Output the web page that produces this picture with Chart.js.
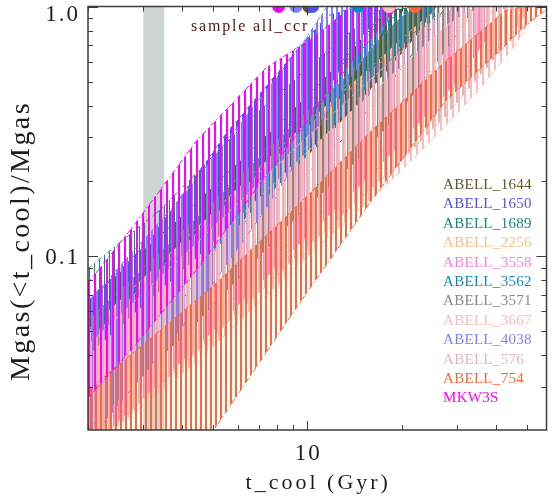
<!DOCTYPE html>
<html>
<head>
<meta charset="utf-8">
<script src="https://cdn.jsdelivr.net/npm/chart.js@4.4.1/dist/chart.umd.min.js"></script>
<style>
  html, body { margin: 0; padding: 0; background: #fff; }
</style>
</head>
<body>
<canvas id="chart" width="553" height="497"></canvas>
<script>
// -------------------------------
// data
// -------------------------------
const clusters = ['ABELL_1644', 'ABELL_1650', 'ABELL_1689', 'ABELL_2256', 'ABELL_3558', 'ABELL_3562',
                  'ABELL_3571', 'ABELL_3667', 'ABELL_4038', 'ABELL_576', 'ABELL_754', 'MKW3S'];
const colors = ['#5a5a2a', '#5050ff', '#118a80', '#ffbf80', '#ff80dd', '#1188cc',
                '#888888', '#ffbbbb', '#7f7fff', '#e3b5b8', '#ff6633', '#ff00ff'];

// t_cool (Gyr), lower and upper envelope of Mgas(<t_cool)/Mgas
const t1644  = [2.0, 4.51, 9.3, 13.37, 17.86, 22.2, 25.7];
const lo1644 = [0.038, 0.096, 0.230, 0.365, 0.552, 0.762, 1.0];
const hi1644 = [0.066, 0.167, 0.400, 0.634, 0.959, 1.0, 1.0];

const t1650  = [2.0, 3.13, 5.6, 8.65, 11.56, 14.37, 18.52];
const lo1650 = [0.022, 0.042, 0.126, 0.264, 0.459, 0.728, 1.0];
const hi1650 = [0.066, 0.115, 0.318, 0.605, 0.916, 1.0, 1.0];

const t1689  = [2.0, 3.37, 6.47, 11.56, 16.61, 23.9, 27.6];
const lo1689 = [0.042, 0.073, 0.140, 0.250, 0.420, 0.760, 1.0];
const hi1689 = [0.089, 0.152, 0.348, 0.664, 0.959, 1.0, 1.0];

const t2256  = [2.0, 4.51, 9.3, 15.45, 22.2, 26.6, 36.9, 39.6];
const lo2256 = [0.0183, 0.0504, 0.120, 0.225, 0.372, 0.490, 0.875, 1.0];
const hi2256 = [0.0504, 0.132, 0.318, 0.552, 0.836, 1.0, 1.0, 1.0];

const t3558  = [2.0, 4.51, 9.3, 16.61, 23.9, 29.7, 36.9, 42.6];
const lo3558 = [0.0167, 0.044, 0.110, 0.222, 0.368, 0.495, 0.728, 1.0];
const hi3558 = [0.046, 0.126, 0.303, 0.578, 0.836, 1.0, 1.0, 1.0];

const t3562  = [2.0, 4.51, 9.3, 13.37, 16.61, 22.2, 25.7];
const lo3562 = [0.032, 0.092, 0.230, 0.382, 0.527, 0.798, 1.0];
const hi3562 = [0.050, 0.145, 0.365, 0.605, 0.836, 1.0, 1.0];

const t3571  = [2.0, 4.51, 9.3, 13.37, 15.45, 19.21, 22.2, 29.7, 34.3];
const lo3571 = [0.0201, 0.0553, 0.145, 0.222, 0.264, 0.368, 0.459, 0.762, 1.0];
const hi3571 = [0.0553, 0.145, 0.348, 0.527, 0.645, 0.875, 1.0, 1.0, 1.0];

const t3667  = [2.0, 4.51, 9.3, 19.21, 27.6, 34.3, 45.8, 55.0];
const lo3667 = [0.0167, 0.0383, 0.0917, 0.210, 0.333, 0.447, 0.695, 1.0];
const hi3667 = [0.040, 0.100, 0.241, 0.552, 0.836, 1.0, 1.0, 1.0];

const t4038  = [2.0, 3.9, 6.96, 9.3, 11.56, 16.61, 19.21];
const lo4038 = [0.018, 0.050, 0.139, 0.241, 0.382, 0.728, 1.0];
const hi4038 = [0.066, 0.167, 0.419, 0.664, 1.0, 1.0, 1.0];

const t576  = [2.0, 4.51, 9.3, 19.21, 25.7, 27.6, 42.6, 51.1];
const lo576 = [0.0167, 0.0420, 0.100, 0.230, 0.333, 0.365, 0.695, 1.0];
const hi576 = [0.044, 0.115, 0.277, 0.634, 0.916, 1.0, 1.0, 1.0];

const t754  = [2.0, 5.02, 9.3, 16.02, 27.6, 42.6, 49.3, 57.0];
const lo754 = [0.0087, 0.020, 0.063, 0.167, 0.419, 0.695, 0.836, 0.959];
const hi754 = [0.029, 0.076, 0.159, 0.318, 0.605, 0.959, 1.0, 1.0];

const tMKW  = [2.0, 2.83, 4.44, 7.38, 10.6, 13.86, 17.86, 19.21];
const loMKW = [0.027, 0.044, 0.088, 0.210, 0.382, 0.605, 0.875, 1.0];
const hiMKW = [0.078, 0.135, 0.290, 0.567, 0.762, 1.0, 1.0, 1.0];

const tcool = [t1644, t1650, t1689, t2256, t3558, t3562, t3571, t3667, t4038, t576, t754, tMKW];
const lows  = [lo1644, lo1650, lo1689, lo2256, lo3558, lo3562, lo3571, lo3667, lo4038, lo576, lo754, loMKW];
const highs = [hi1644, hi1650, hi1689, hi2256, hi3558, hi3562, hi3571, hi3667, hi4038, hi576, hi754, hiMKW];

// markers on the top axis
const markNames = ['MKW3S', 'ABELL_4038', 'ABELL_1644', 'ABELL_1650', 'ABELL_3562', 'ABELL_3667', 'ABELL_754'];
const markT     = [8.1, 9.2, 10.1, 10.4, 14.5, 18.2, 22.0];
const markY     = [1.0, 1.0, 1.0, 1.0, 1.0, 1.0, 1.0];

// shaded t_cool interval
const coolBand = [3.0, 3.5];

// axes
const xRange = [2.0, 57.8];
const yRange = [0.0201, 1.0];
const xMajor = [10];
const xMinor = [2, 3, 4, 5, 6, 7, 8, 9, 20, 30, 40, 50];
const yMajor = [0.1, 1.0];
const yMinor = [0.03, 0.04, 0.05, 0.06, 0.07, 0.08, 0.09, 0.2, 0.3, 0.4, 0.5, 0.6, 0.7, 0.8, 0.9];
const xTickLabels = ['10'];
const yTickLabels = ['0.1', '1.0'];
const xTitle = 't_cool (Gyr)';
const yTitle = 'Mgas(<t_cool)/Mgas';
const sampleLabel = 'sample all_ccr';

// -------------------------------
// hatch patterns (vertical lines)
// -------------------------------
const canvas = document.getElementById('chart');
const ctx = canvas.getContext('2d');

function hatch(color, period, offset) {
    const c = document.createElement('canvas');
    c.width = period;
    c.height = 8;
    const g = c.getContext('2d');
    g.fillStyle = color;
    g.fillRect(offset, 0, 2, 8);
    return ctx.createPattern(c, 'repeat');
}

// later clusters are drawn on top (plot order = legend order)
const datasets = [];
clusters.forEach((name, i) => {
    const pts = ys => tcool[i].map((t, k) => ({ x: t, y: ys[k] }));
    const period = i % 2 ? 6 : 5;
    const line = {
        borderColor: colors[i],
        borderWidth: 1,
        borderDash: [5, 3, 1.5, 3],
        pointRadius: 0,
        tension: 0,
        order: 30 - i
    };
    datasets.push({ ...line, label: name + ' low', data: pts(lows[i]), fill: false });
    datasets.push({
        ...line,
        label: name,
        data: pts(highs[i]),
        fill: '-1',
        backgroundColor: hatch(colors[i], period, (i * 2) % period)
    });
});

datasets.push({
    label: 'marks',
    data: markT.map((t, k) => ({ x: t, y: markY[k] })),
    showLine: false,
    pointRadius: 6.5,
    pointBorderWidth: 0,
    pointBackgroundColor: markNames.map(n => colors[clusters.indexOf(n)]),
    order: 0
});

// -------------------------------
// frame, ticks, labels (IDL look)
// -------------------------------
const SERIF = '"Liberation Serif", serif';

const idlFrame = {
    id: 'idlFrame',
    beforeDatasetsDraw(chart) {
        const { ctx, chartArea: a, scales: { x } } = chart;
        const x0 = x.getPixelForValue(coolBand[0]);
        const x1 = x.getPixelForValue(coolBand[1]);
        ctx.save();
        ctx.fillStyle = '#cdd5d3';
        ctx.fillRect(x0, a.top, x1 - x0, a.bottom - a.top);
        ctx.restore();
    },
    afterDatasetsDraw(chart) {
        const { ctx, chartArea: a, scales: { x, y } } = chart;
        ctx.save();

        // axes box
        ctx.strokeStyle = '#3c3c3c';
        ctx.lineWidth = 1.5;
        ctx.strokeRect(a.left, a.top, a.right - a.left, a.bottom - a.top);

        // inward ticks
        ctx.lineWidth = 1;
        ctx.beginPath();
        const xt = (v, len) => {
            const px = Math.round(x.getPixelForValue(v)) + 0.5;
            ctx.moveTo(px, a.bottom); ctx.lineTo(px, a.bottom - len);
            ctx.moveTo(px, a.top); ctx.lineTo(px, a.top + len);
        };
        const yt = (v, len) => {
            const py = Math.round(y.getPixelForValue(v)) + 0.5;
            ctx.moveTo(a.left, py); ctx.lineTo(a.left + len, py);
            ctx.moveTo(a.right, py); ctx.lineTo(a.right - len, py);
        };
        xMinor.forEach(v => xt(v, 5));
        xMajor.forEach(v => xt(v, 9));
        yMinor.forEach(v => yt(v, 5));
        yMajor.forEach(v => yt(v, 10));
        ctx.stroke();

        // tick labels
        ctx.fillStyle = '#1e1e1e';
        ctx.font = '23px ' + SERIF;
        ctx.letterSpacing = '2px';
        ctx.textAlign = 'center';
        ctx.textBaseline = 'middle';
        xMajor.forEach((v, k) => ctx.fillText(xTickLabels[k], x.getPixelForValue(v) + 1, 454));
        ctx.textAlign = 'right';
        yMajor.forEach((v, k) => {
            const py = Math.max(y.getPixelForValue(v) + 1.5, 15);
            ctx.fillText(yTickLabels[k], 80, py);
        });

        // axis titles
        ctx.textAlign = 'center';
        ctx.font = '22px ' + SERIF;
        ctx.letterSpacing = '3px';
        ctx.fillText(xTitle, (a.left + a.right) / 2 + 1, 483);
        ctx.save();
        ctx.translate(22, 241);
        ctx.rotate(-Math.PI / 2);
        ctx.font = '28px ' + SERIF;
        ctx.letterSpacing = '2.4px';
        ctx.fillText(yTitle, 0, 0);
        ctx.restore();

        // sample label
        ctx.textAlign = 'left';
        ctx.textBaseline = 'alphabetic';
        ctx.font = '16px ' + SERIF;
        ctx.letterSpacing = '1.8px';
        ctx.fillStyle = '#5b1515';
        ctx.fillText(sampleLabel, 191, 31);

        // cluster legend
        ctx.font = '15px ' + SERIF;
        ctx.letterSpacing = '0.3px';
        ctx.textBaseline = 'middle';
        clusters.forEach((name, i) => {
            ctx.fillStyle = colors[i];
            ctx.fillText(name, 443, 185 + i * 19.4);
        });
        ctx.letterSpacing = '0px';

        ctx.restore();
    }
};

new Chart(canvas, {
    type: 'line',
    data: { datasets },
    options: {
        responsive: false,
        animation: false,
        devicePixelRatio: 1,
        layout: { padding: { left: 88, top: 5, right: 1, bottom: 67 } },
        scales: {
            x: { type: 'logarithmic', min: xRange[0], max: xRange[1], display: false },
            y: { type: 'logarithmic', min: yRange[0], max: yRange[1], display: false }
        },
        plugins: {
            legend: { display: false },
            tooltip: { enabled: false },
            filler: { propagate: false }
        }
    },
    plugins: [idlFrame]
});
</script>
</body>
</html>
